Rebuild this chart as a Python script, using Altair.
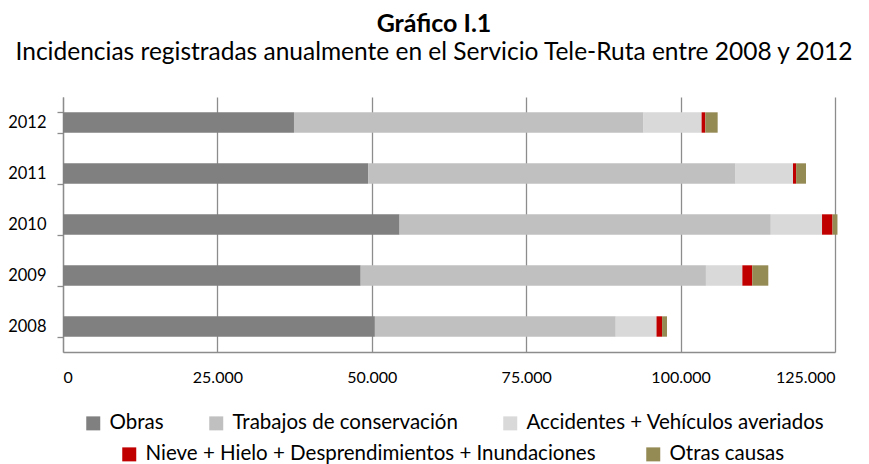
import altair as alt
import pandas as pd

years = ["2008", "2009", "2010", "2011", "2012"]
categories = [
    "Obras",
    "Trabajos de conservación",
    "Accidentes + Vehículos averiados",
    "Nieve + Hielo + Desprendimientos + Inundaciones",
    "Otras causas",
]
obras = [50500, 48200, 54500, 49400, 37400]
trabajos = [39000, 55900, 60100, 59500, 56600]
accidentes = [6600, 5900, 8300, 9300, 9400]
nieve = [900, 1600, 1700, 500, 600]
otras = [800, 2600, 800, 1600, 2000]
colors = ["#808080", "#c0c0c0", "#d9d9d9", "#c00000", "#948a54"]
x_ticks = [0, 25000, 50000, 75000, 100000, 125000]

series = [obras, trabajos, accidentes, nieve, otras]
rows = []
for i, y in enumerate(years):
    for k, (cat, vals) in enumerate(zip(categories, series)):
        rows.append({"year": y, "cat": cat, "order": k, "value": vals[i]})
df = pd.DataFrame(rows)

FONT = "Lato"
W, H = 772, 255

x_enc = alt.X(
    "x0:Q",
    scale=alt.Scale(domain=[0, 125000], nice=False),
    axis=alt.Axis(
        values=x_ticks,
        labelExpr="replace(format(datum.value, ','), ',', '.')",
        title=None,
        grid=True,
        gridColor="#8c8c8c",
        gridWidth=1.3,
        domainColor="#8c8c8c",
        domainWidth=1.3,
        ticks=False,
        labelPadding=17,
        labelFont=FONT,
        labelFontSize=16,
        labelColor="#000000",
    ),
)
y_enc = alt.Y(
    "year:N",
    sort=years[::-1],
    scale=alt.Scale(paddingInner=0.6, paddingOuter=0.3),
    axis=alt.Axis(
        title=None,
        grid=False,
        tickBand="extent",
        ticks=True,
        tickSize=6,
        tickColor="#8c8c8c",
        tickWidth=1.3,
        domainColor="#8c8c8c",
        domainWidth=1.3,
        labelPadding=11,
        labelFont=FONT,
        labelFontSize=16.5,
        labelColor="#000000",
    ),
)

base = alt.Chart(df).transform_stack(
    stack="value",
    groupby=["year"],
    as_=["x0", "x1"],
    sort=[alt.SortField("order", order="ascending")],
)


def legend(x, y, pad):
    return alt.Legend(
        orient="none",
        legendX=x,
        legendY=y,
        direction="horizontal",
        title=None,
        symbolType="square",
        symbolSize=196,
        symbolStrokeWidth=0,
        symbolOpacity=1,
        labelFont=FONT,
        labelFontSize=20.5,
        labelColor="#000000",
        labelOffset=6,
        columnPadding=pad,
        labelLimit=700,
    )


layer1 = base.transform_filter(alt.datum.order < 3).mark_bar(opacity=1).encode(
    x=x_enc,
    x2="x1:Q",
    y=y_enc,
    color=alt.Color(
        "cat:N",
        scale=alt.Scale(domain=categories[:3], range=colors[:3]),
        sort=categories[:3],
        legend=legend(20, 316, 42),
    ),
)
layer2 = base.transform_filter(alt.datum.order >= 3).mark_bar(opacity=1).encode(
    x=x_enc,
    x2="x1:Q",
    y=y_enc,
    color=alt.Color(
        "cat:N",
        scale=alt.Scale(domain=categories[3:], range=colors[3:]),
        sort=categories[3:],
        legend=legend(56, 347, 47),
    ),
)

chart = (
    alt.layer(layer1, layer2)
    .resolve_scale(color="independent")
    .properties(
        width=W,
        height=H,
        autosize=alt.AutoSizeParams(type="none"),
        padding={"left": 55, "top": 89, "right": 26, "bottom": 114},
        title=alt.TitleParams(
            "Gráfico I.1",
            subtitle="Incidencias registradas anualmente en el Servicio Tele-Ruta entre 2008 y 2012",
            font=FONT,
            fontSize=25,
            fontWeight="bold",
            color="#000000",
            subtitleFont=FONT,
            subtitleFontSize=24.5,
            subtitleColor="#000000",
            subtitlePadding=4,
            anchor="middle",
            dx=-15,
            offset=25,
        ),
    )
    .configure_view(stroke=None)
)

chart.save("out.html", embed_options={"renderer": "svg", "actions": False})
